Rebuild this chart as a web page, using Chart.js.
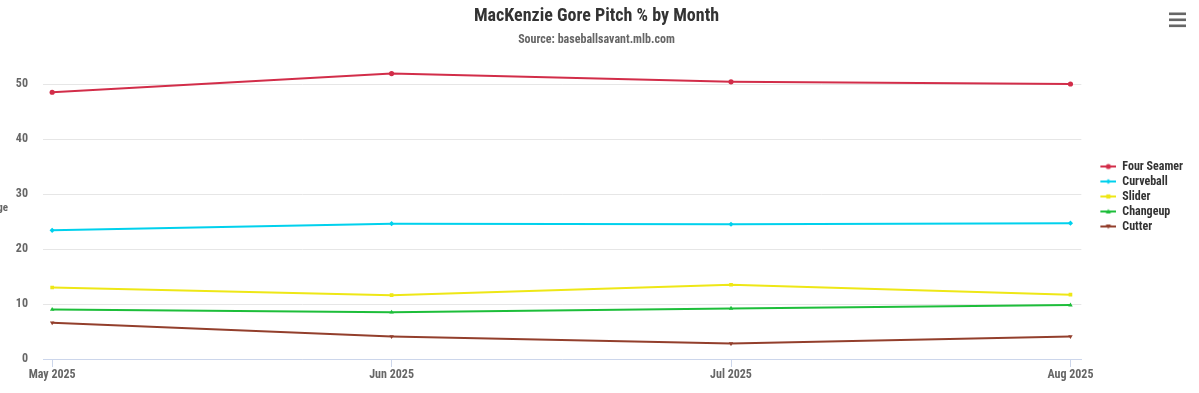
<!DOCTYPE html>
<html>
<head>
<meta charset="utf-8">
<script src="https://cdn.jsdelivr.net/npm/chart.js@4/dist/chart.umd.min.js"></script>
<style>
  html, body { margin: 0; padding: 0; background: #ffffff; }
  #wrap { width: 1199px; height: 393px; }
</style>
</head>
<body>
<div id="wrap"><canvas id="c" width="1199" height="393"></canvas></div>
<script>
// ---- data ----
const months = ['May 2025', 'Jun 2025', 'Jul 2025', 'Aug 2025'];
const seriesNames = ['Four Seamer', 'Curveball', 'Slider', 'Changeup', 'Cutter'];
const fourSeamer = [48.5, 51.9, 50.4, 50.0];
const curveball  = [23.4, 24.6, 24.5, 24.7];
const slider     = [13.0, 11.6, 13.5, 11.7];
const changeup   = [9.0, 8.5, 9.2, 9.8];
const cutter     = [6.6, 4.1, 2.8, 4.1];
const yTickValues = [0, 10, 20, 30, 40, 50];

// ---- styles ----
const seriesColors = ['#D22D49', '#00D1ED', '#EEE716', '#1DBE3A', '#933F2C'];
const markerStyles = ['circle', 'diamond', 'square', 'triangle', 'triangle-down'];
const FONT = 'Roboto, sans-serif';
const BOLD = 'bold condensed';

function chartPointStyle(s) {
  return { 'circle': 'circle', 'diamond': 'rectRot', 'square': 'rect', 'triangle': 'triangle', 'triangle-down': 'triangle' }[s];
}
function chartPointRotation(s) { return s === 'triangle-down' ? 180 : 0; }

function drawMarker(g, s, x, y, r) {
  g.beginPath();
  if (s === 'circle') { g.arc(x, y, r, 0, Math.PI * 2); }
  else if (s === 'diamond') { g.moveTo(x, y - r); g.lineTo(x + r, y); g.lineTo(x, y + r); g.lineTo(x - r, y); g.closePath(); }
  else if (s === 'square') { g.rect(x - r * 0.8, y - r * 0.8, r * 1.6, r * 1.6); }
  else if (s === 'triangle') { g.moveTo(x, y - r); g.lineTo(x + r, y + r * 0.8); g.lineTo(x - r, y + r * 0.8); g.closePath(); }
  else { g.moveTo(x, y + r); g.lineTo(x + r, y - r * 0.8); g.lineTo(x - r, y - r * 0.8); g.closePath(); }
  g.fill();
}

function makeLegendSymbol(color, style) {
  const c = document.createElement('canvas');
  c.width = 32; c.height = 8;
  const g = c.getContext('2d');
  g.strokeStyle = color; g.fillStyle = color; g.lineWidth = 2;
  g.beginPath(); g.moveTo(16, 4); g.lineTo(32, 4); g.stroke();
  drawMarker(g, style, 24, 4, 2.6);
  return c;
}

const seriesValues = [fourSeamer, curveball, slider, changeup, cutter];
const datasets = seriesNames.map((name, i) => ({
  label: name,
  data: seriesValues[i].map((v, k) => ({ x: k, y: v })),
  borderColor: seriesColors[i],
  backgroundColor: seriesColors[i],
  borderWidth: 2,
  pointStyle: chartPointStyle(markerStyles[i]),
  rotation: chartPointRotation(markerStyles[i]),
  pointRadius: 2.6,
  pointBorderWidth: 0,
  tension: 0,
  fill: false
}));
const legendSymbols = seriesNames.map((n, i) => makeLegendSymbol(seriesColors[i], markerStyles[i]));

const extras = {
  id: 'extras',
  afterDraw(chart) {
    const ctx = chart.ctx;
    ctx.save();
    ctx.font = BOLD + ' 11px ' + FONT;
    ctx.fillStyle = '#666666';
    ctx.textAlign = 'right';
    ctx.textBaseline = 'middle';
    ctx.fillText('Percentage', 8, 208);
    ctx.fillStyle = '#666666';
    [12.5, 18.5, 24.5].forEach(yy => ctx.fillRect(1169, yy, 17, 2.6));
    ctx.restore();
  }
};

new Chart(document.getElementById('c'), {
  type: 'line',
  data: { datasets },
  plugins: [extras],
  options: {
    responsive: false,
    animation: false,
    layout: { padding: { left: 0, right: 6, top: 0, bottom: 0 } },
    plugins: {
      title: {
        display: true,
        text: 'MacKenzie Gore Pitch % by Month',
        color: '#333333',
        font: { family: FONT, size: 18, weight: BOLD, lineHeight: 1.2 },
        padding: { top: 6, bottom: 2 }
      },
      subtitle: {
        display: true,
        text: 'Source: baseballsavant.mlb.com',
        color: '#666666',
        font: { family: FONT, size: 12, weight: BOLD, lineHeight: 1.2 },
        padding: { top: 3, bottom: 15 }
      },
      legend: {
        position: 'right',
        align: 'center',
        labels: {
          usePointStyle: true,
          pointStyleWidth: 32,
          boxHeight: 12,
          padding: 3,
          color: '#333333',
          font: { family: FONT, size: 12, weight: BOLD },
          generateLabels: () => seriesNames.map((n, i) => ({
            text: n,
            fillStyle: seriesColors[i],
            strokeStyle: seriesColors[i],
            lineWidth: 0,
            pointStyle: legendSymbols[i],
            fontColor: '#333333',
            hidden: false,
            datasetIndex: i
          }))
        }
      },
      tooltip: { enabled: false }
    },
    scales: {
      x: {
        type: 'linear',
        min: -0.027,
        max: 3.032,
        afterBuildTicks: (axis) => { axis.ticks = months.map((m, i) => ({ value: i })); },
        afterFit: (scale) => { scale.height = 34; },
        ticks: {
          includeBounds: false,
          autoSkip: false,
          maxRotation: 0,
          padding: 1,
          color: '#666666',
          font: { family: FONT, size: 12, weight: BOLD },
          callback: (v) => months[v]
        },
        grid: { drawOnChartArea: false, drawTicks: true, tickLength: 8, color: '#ccd6eb' },
        border: { display: true, color: '#ccd6eb', width: 1 }
      },
      y: {
        min: 0,
        max: 54,
        afterBuildTicks: (axis) => { axis.ticks = yTickValues.map(v => ({ value: v })); },
        afterFit: (scale) => { scale.width = 43; },
        ticks: {
          padding: 15,
          color: '#666666',
          font: { family: FONT, size: 12, weight: BOLD }
        },
        grid: { color: '#e6e6e6', drawTicks: false },
        border: { display: false }
      }
    }
  }
});
</script>
</body>
</html>
